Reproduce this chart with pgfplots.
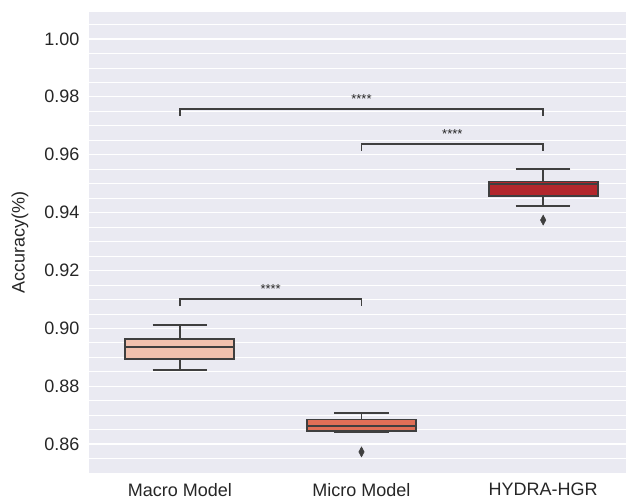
\documentclass[border=0pt]{standalone}
\usepackage{fontspec}
\setmainfont{Liberation Sans}
\usepackage{pgfplots}
\pgfplotsset{compat=1.18}
\usepgfplotslibrary{statistics}
\definecolor{bg}{HTML}{EAEAF2}
\definecolor{edge}{HTML}{3F3F3F}
\definecolor{cA}{HTML}{F1C1AE}
\definecolor{cB}{HTML}{E06F57}
\definecolor{cC}{HTML}{B3272C}
\definecolor{txt}{HTML}{262626}
\begin{document}
\begin{tikzpicture}
\path[use as bounding box] (-89pt,-27pt) rectangle (537pt,473pt);
\begin{axis}[
  at={(0pt,0pt)}, anchor=south west,
  scale only axis, width=537pt, height=461pt,
  xmin=-0.5, xmax=2.456, ymin=0.85, ymax=1.0093,
  boxplot/draw direction=y,
  axis background/.style={fill=bg},
  axis line style={draw=none},
  major tick length=0pt, minor tick length=0pt,
  ytick={0.86,0.88,0.90,0.92,0.94,0.96,0.98,1.00},
  minor ytick={0.855,0.865,0.87,0.875,0.885,0.89,0.895,0.905,0.91,0.915,0.925,0.93,0.935,0.945,0.95,0.955,0.965,0.97,0.975,0.985,0.99,0.995,1.005},
  ymajorgrids, yminorgrids,
  major grid style={white, line width=1.3pt},
  minor grid style={white, line width=0.6pt},
  xtick={0,1,2}, xticklabels={Macro Model, Micro Model, HYDRA-HGR},
  yticklabel style={/pgf/number format/fixed, /pgf/number format/fixed zerofill, /pgf/number format/precision=2, xshift=-6pt},
  xticklabel style={yshift=-6.5pt},
  /pgf/number format/assume math mode=true,
  tick label style={font=\fontsize{18}{20}\selectfont, text=txt},
  ylabel={Accuracy(\%)},
  ylabel style={font=\fontsize{18}{20}\selectfont, text=txt, at={(axis description cs:-0.1285,0.5)}, anchor=center},
  clip=false,
]
% Macro Model
\addplot[boxplot prepared={draw position=0, lower whisker=0.8856, lower quartile=0.8894, median=0.8935, upper quartile=0.8963, upper whisker=0.9011, box extend=0.6, whisker extend=0.3}, draw=edge, fill=cA, line width=1.8pt, solid] coordinates {};
% Micro Model
\addplot[boxplot prepared={draw position=1, lower whisker=0.8640, lower quartile=0.8644, median=0.8662, upper quartile=0.8685, upper whisker=0.8706, box extend=0.6, whisker extend=0.3}, draw=edge, fill=cB, line width=1.8pt, solid, mark=diamond*, mark size=5pt, mark options={fill=edge, draw=edge, line width=0.5pt, xscale=0.72}] table[row sep=\\, y index=0] {data\\ 0.8573\\};
% HYDRA-HGR
\addplot[boxplot prepared={draw position=2, lower whisker=0.9423, lower quartile=0.9457, median=0.9499, upper quartile=0.9507, upper whisker=0.9550, box extend=0.6, whisker extend=0.3}, draw=edge, fill=cC, line width=1.8pt, solid, mark=diamond*, mark size=5pt, mark options={fill=edge, draw=edge, line width=0.5pt, xscale=0.72}] table[row sep=\\, y index=0] {data\\ 0.9374\\};
% significance brackets
\addplot[edge, line width=1.8pt, mark=none] coordinates {(0,0.9077) (0,0.9101) (1,0.9101) (1,0.9077)};
\addplot[edge, line width=1.8pt, mark=none] coordinates {(1,0.9613) (1,0.9637) (2,0.9637) (2,0.9613)};
\addplot[edge, line width=1.8pt, mark=none] coordinates {(0,0.9734) (0,0.9757) (2,0.9757) (2,0.9734)};
\node[font=\fontsize{13}{14}\selectfont, text=txt, anchor=south] at (axis cs:0.5,0.9108) {****};
\node[font=\fontsize{13}{14}\selectfont, text=txt, anchor=south] at (axis cs:1.5,0.9644) {****};
\node[font=\fontsize{13}{14}\selectfont, text=txt, anchor=south] at (axis cs:1,0.9764) {****};
\end{axis}
\end{tikzpicture}
\end{document}
